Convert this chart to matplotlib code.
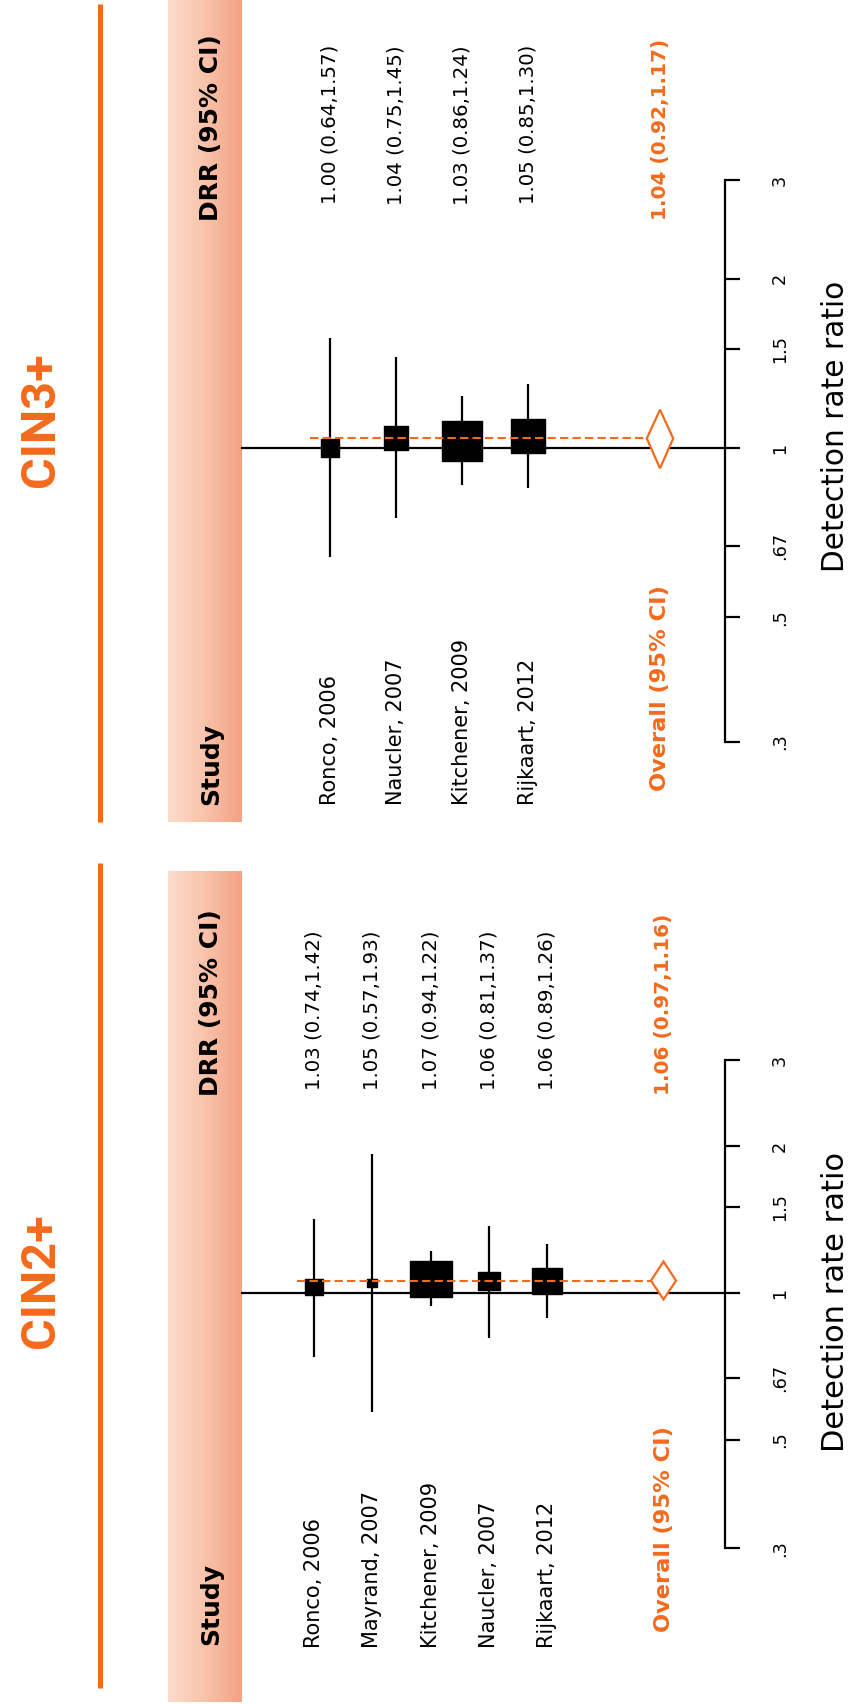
import numpy as np
import matplotlib
matplotlib.use("Agg")
import matplotlib.pyplot as plt
from matplotlib.path import Path
from matplotlib.patches import Polygon
from matplotlib.lines import Line2D
from matplotlib.ticker import NullLocator, FixedLocator
import matplotlib.transforms as mtransforms

plt.rcParams['font.family'] = ['DejaVu Sans']

# ---- data ----
cin2_studies = ["Ronco, 2006", "Mayrand, 2007", "Kitchener, 2009", "Naucler, 2007", "Rijkaart, 2012"]
cin2_drr = [1.03, 1.05, 1.07, 1.06, 1.06]
cin2_lo = [0.74, 0.57, 0.94, 0.81, 0.89]
cin2_hi = [1.42, 1.93, 1.22, 1.37, 1.26]
cin2_weight = [9.1, 2.8, 49.4, 13.5, 25.2]
cin2_overall = [1.06, 0.97, 1.16]

cin3_studies = ["Ronco, 2006", "Naucler, 2007", "Kitchener, 2009", "Rijkaart, 2012"]
cin3_drr = [1.00, 1.04, 1.03, 1.05]
cin3_lo = [0.64, 0.75, 0.86, 0.85]
cin3_hi = [1.57, 1.45, 1.24, 1.30]
cin3_weight = [8.4, 16.2, 43.6, 31.8]
cin3_overall = [1.04, 0.92, 1.17]

tick_vals = [0.3, 0.5, 0.67, 1, 1.5, 2, 3]
tick_labels = [".3", ".5", ".67", "1", "1.5", "2", "3"]

ORANGE = '#F46A1C'
W, H = 849, 1704

fig = plt.figure(figsize=(W / 100, H / 100), dpi=100)
fig.patch.set_facecolor('white')


def fx(px):
    return px / W


def fy(py):
    return 1 - py / H


def fmt(v, lo, hi):
    return f"{v:.2f} ({lo:.2f},{hi:.2f})"


# box marker, a bit flatter in the squeezed panel
def box_marker(aspect):
    verts = [(-1, -aspect), (1, -aspect), (1, aspect), (-1, aspect), (-1, -aspect)]
    return Path(verts, [Path.MOVETO, Path.LINETO, Path.LINETO, Path.LINETO, Path.CLOSEPOLY])


def panel(title, studies, drr, lo, hi, weight, overall, p):
    # p: layout in pixels
    fig.add_artist(Line2D([fx(100), fx(100)], [fy(p['rule'][0]), fy(p['rule'][1])],
                          color=ORANGE, lw=3.6, solid_capstyle='butt'))
    fig.text(fx(41), fy(p['title_y']), title, rotation=90, color=ORANGE,
             fontsize=35, fontweight='bold', family=['Roboto', 'DejaVu Sans'],
             ha='center', va='center')

    # header band with gradient
    bax = fig.add_axes([fx(168), fy(p['band'][1]), fx(241 - 168), (p['band'][1] - p['band'][0]) / H])
    grad = np.linspace(0, 1, 256)[None, :]
    cmap = matplotlib.colors.LinearSegmentedColormap.from_list('band', ['#fcdccd', '#f9c3aa', '#f4a183'])
    bax.imshow(grad, aspect='auto', cmap=cmap, extent=[0, 1, 0, 1])
    bax.axis('off')
    fig.text(fx(211), fy(p['study_hdr']), "Study", rotation=90, fontsize=18,
             fontweight='bold', ha='center', va='bottom')
    fig.text(fx(211), fy(p['drr_hdr']), "DRR (95% CI)", rotation=90, fontsize=18,
             fontweight='bold', ha='center', va='top')

    # forest axes
    ylo, yhi = 0.27, 3.4
    top = p['one'] - p['ppu'] * np.log(yhi)
    bot = p['one'] - p['ppu'] * np.log(ylo)
    ax = fig.add_axes([fx(241), fy(bot), fx(725 - 241), (bot - top) / H])
    ax.set_yscale('log')
    ax.set_ylim(ylo, yhi)
    ax.set_xlim((241 - p['row0']) / p['step'], (725 - p['row0']) / p['step'])
    ax.patch.set_alpha(0)

    rows = np.arange(len(studies))
    orow = len(studies) + 1

    ax.axhline(1, color='black', lw=1.6, zorder=1)
    ax.vlines(rows, lo, hi, color='black', lw=1.6, zorder=2)
    mk = box_marker(p['aspect'])
    for r, v, w in zip(rows, drr, weight):
        ax.plot(r, v, ls='none', marker=mk, ms=p['k'] * np.sqrt(w) * 0.72,
                color='black', mec='black', zorder=3)

    dw = p['dw']
    ax.plot([-0.3, orow - dw], [overall[0], overall[0]], color=ORANGE, lw=1.5,
            ls=(0, (4, 2)), zorder=4)
    ax.add_patch(Polygon([(orow - dw, overall[0]), (orow, overall[2]),
                          (orow + dw, overall[0]), (orow, overall[1])],
                         closed=True, facecolor='white', edgecolor=ORANGE, lw=1.6, zorder=4))

    for s in ['top', 'left', 'bottom']:
        ax.spines[s].set_visible(False)
    ax.spines['right'].set_bounds(0.3, 3)
    ax.spines['right'].set_linewidth(1.6)
    ax.set_xticks([])
    ax.yaxis.tick_right()
    ax.yaxis.set_major_locator(FixedLocator(tick_vals))
    ax.yaxis.set_minor_locator(NullLocator())
    ax.set_yticklabels(tick_labels, rotation=90, va='center', fontsize=12.7)
    ax.tick_params(axis='y', direction='out', length=11, width=1.6, pad=22)

    # text columns
    tr = mtransforms.blended_transform_factory(ax.transData, fig.transFigure)
    for r, name, v, l, h in zip(rows, studies, drr, lo, hi):
        ax.text(r, fy(p['lab_bot']), name, transform=tr, rotation=90, fontsize=15,
                ha='center', va='bottom')
        ax.text(r, fy(p['val_top']), fmt(v, l, h), transform=tr, rotation=90, fontsize=14.2,
                ha='center', va='top')
    ax.text(orow, fy(p['ov_bot']), "Overall (95% CI)", transform=tr, rotation=90,
            fontsize=16.2, fontweight='bold', color=ORANGE, ha='center', va='bottom')
    ax.text(orow, fy(p['ov_top']), fmt(*overall), transform=tr, rotation=90,
            fontsize=14.4, fontweight='bold', color=ORANGE, ha='center', va='top')

    fig.text(fx(836), fy(p['xlab_y']), "Detection rate ratio", rotation=90,
             fontsize=p['xlab_fs'], ha='center', va='center')


panel("CIN3+", cin3_studies, cin3_drr, cin3_lo, cin3_hi, cin3_weight, cin3_overall,
      dict(rule=(4, 822), title_y=420, band=(0, 822), study_hdr=805, drr_hdr=34,
           one=448, ppu=244, row0=330, step=66, aspect=1.0, k=6.2, dw=0.2,
           lab_bot=805, val_top=45, ov_bot=791, ov_top=39, xlab_y=426, xlab_fs=21.3))

panel("CIN2+", cin2_studies, cin2_drr, cin2_lo, cin2_hi, cin2_weight, cin2_overall,
      dict(rule=(863, 1688), title_y=1281, band=(871, 1702), study_hdr=1645, drr_hdr=909,
           one=1293, ppu=212, row0=314, step=58.25, aspect=0.84, k=6.0, dw=0.215,
           lab_bot=1648, val_top=930, ov_bot=1632, ov_top=914, xlab_y=1302, xlab_fs=22))

fig.savefig("out.png", dpi=100)
